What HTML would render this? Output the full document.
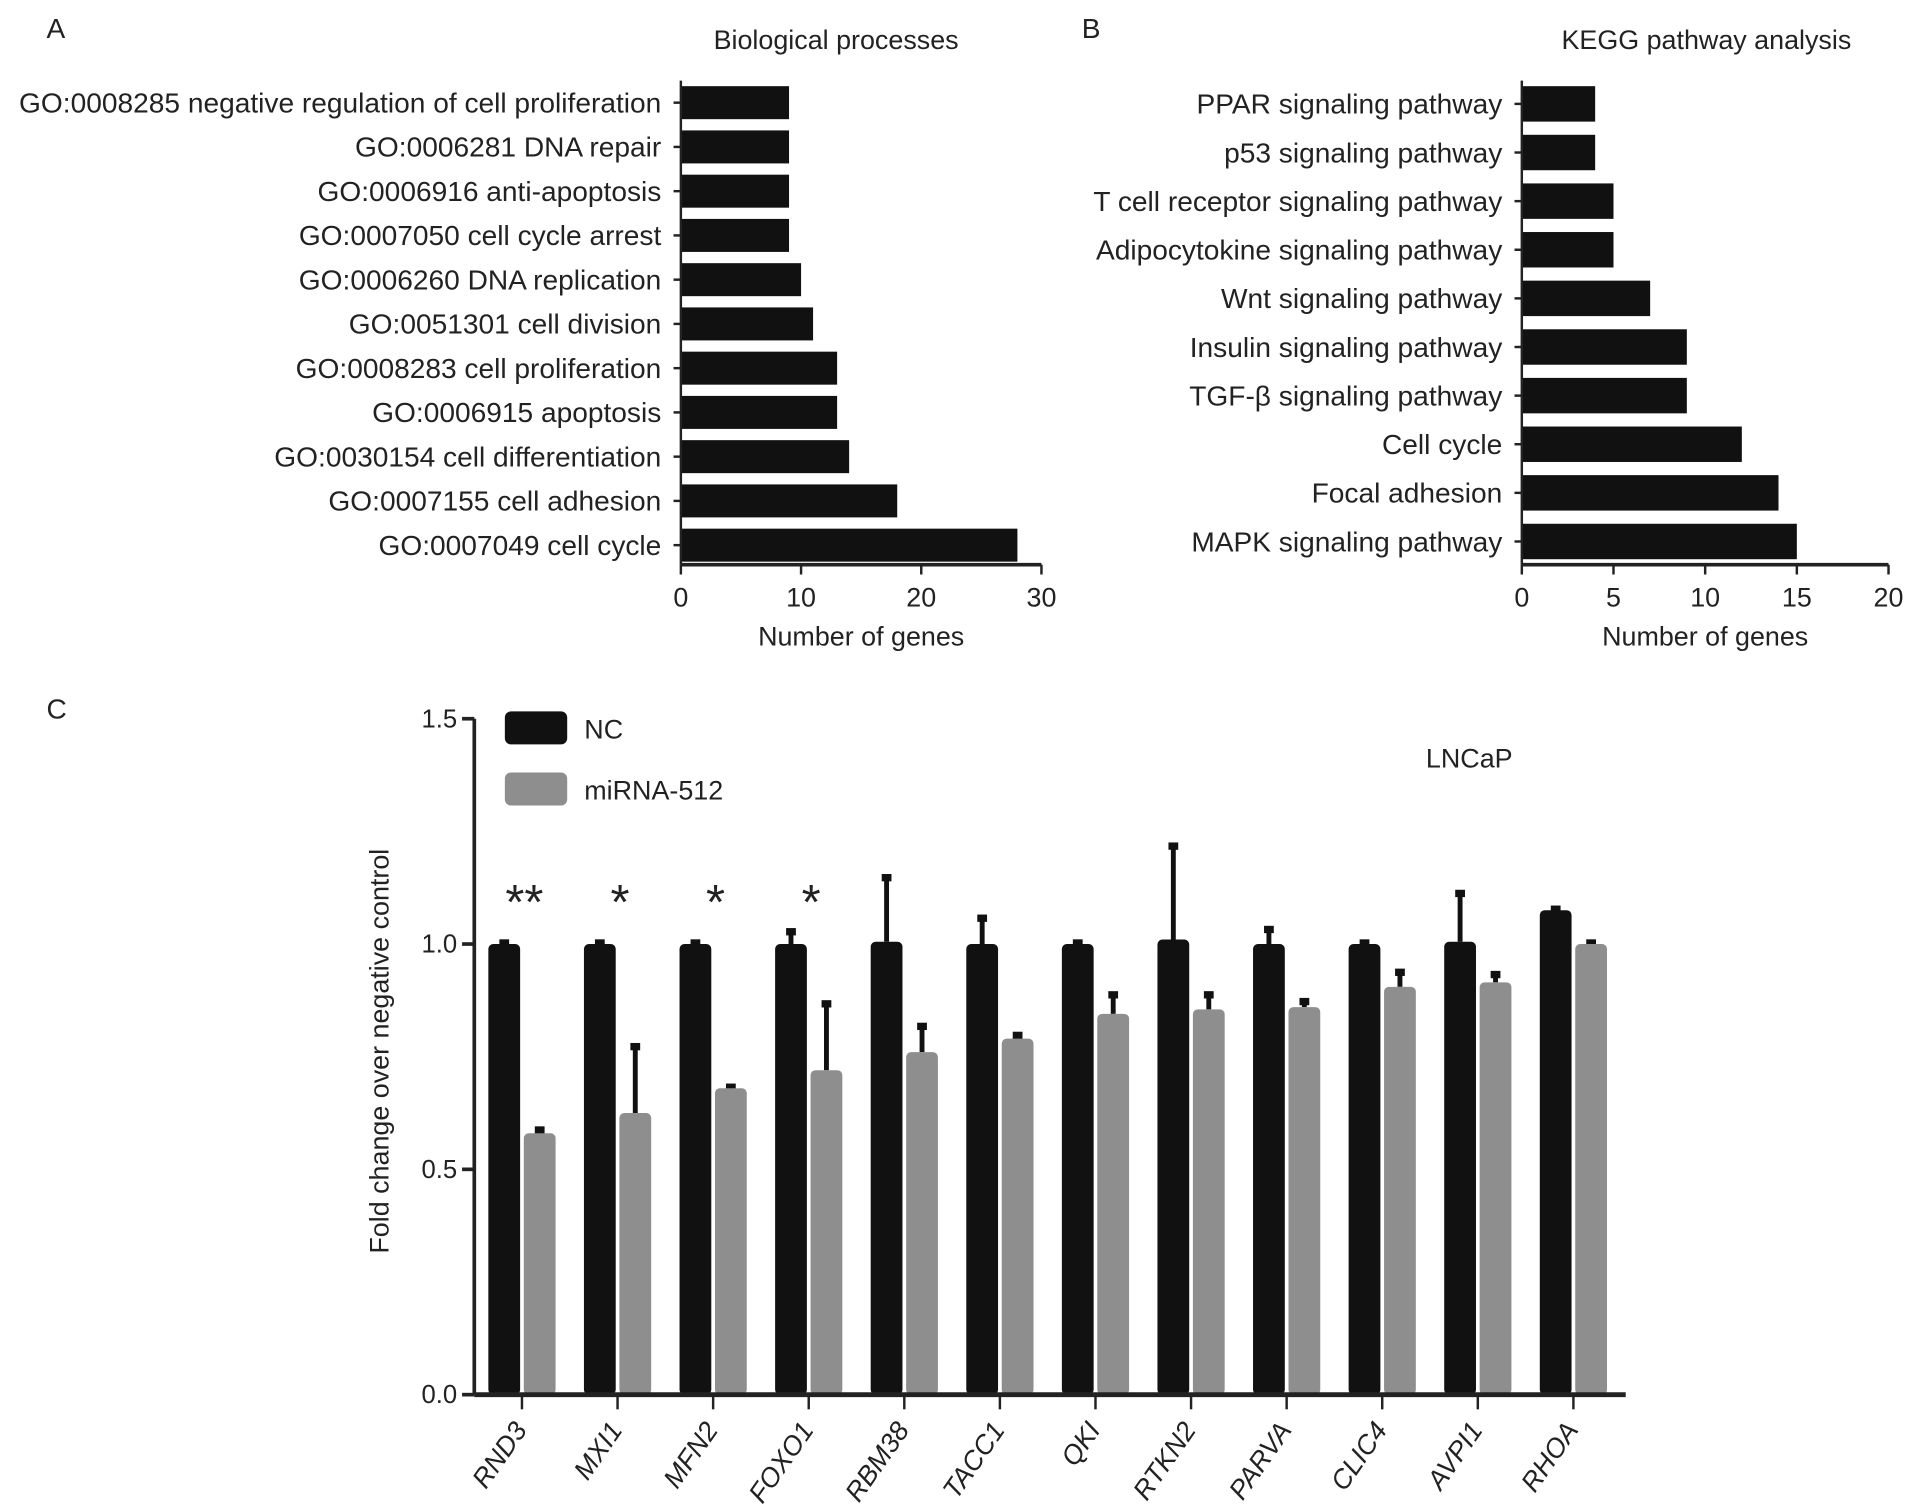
<!DOCTYPE html>
<html><head><meta charset="utf-8"><style>
html,body{margin:0;padding:0;background:#fff;}
svg{display:block;font-family:"Liberation Sans",Arial,sans-serif;}
</style></head><body>
<svg id="fig" width="1913" height="1512" viewBox="0 0 1565 1237">
<g id="pa"></g>
<g id="pb"></g>
<g id="pc"></g>
</svg>
<script>
const goTerms=["GO:0008285 negative regulation of cell proliferation","GO:0006281 DNA repair","GO:0006916 anti-apoptosis","GO:0007050 cell cycle arrest","GO:0006260 DNA replication","GO:0051301 cell division","GO:0008283 cell proliferation","GO:0006915 apoptosis","GO:0030154 cell differentiation","GO:0007155 cell adhesion","GO:0007049 cell cycle"];
const goCounts=[9,9,9,9,10,11,13,13,14,18,28];
const goTicks=[0,10,20,30];
const keggTerms=["PPAR signaling pathway","p53 signaling pathway","T cell receptor signaling pathway","Adipocytokine signaling pathway","Wnt signaling pathway","Insulin signaling pathway","TGF-β signaling pathway","Cell cycle","Focal adhesion","MAPK signaling pathway"];
const keggCounts=[4,4,5,5,7,9,9,12,14,15];
const keggTicks=[0,5,10,15,20];
const genes=["RND3","MXI1","MFN2","FOXO1","RBM38","TACC1","QKI","RTKN2","PARVA","CLIC4","AVPI1","RHOA"];
const ncValues=[1,1,1,1,1.005,1,1,1.01,1,1,1.005,1.075];
const ncErrTop=[1.005,1.005,1.005,1.03,1.15,1.06,1.005,1.22,1.035,1.005,1.115,1.08];
const miValues=[0.58,0.625,0.68,0.72,0.76,0.79,0.845,0.855,0.86,0.905,0.915,1.0];
const miErrTop=[0.59,0.775,0.685,0.87,0.82,0.80,0.89,0.89,0.875,0.94,0.935,1.005];
const sigMarks=["**","*","*","*","","","","","","","",""];
const yTicksC=[0,0.5,1.0,1.5];

const NS="http://www.w3.org/2000/svg";
function mk(parent,tag,attrs,text){const e=document.createElementNS(NS,tag);for(const k in attrs)e.setAttribute(k,attrs[k]);if(text!==undefined)e.textContent=text;parent.appendChild(e);return e;}

function hbar(g,terms,counts,ticks,x0,xMax,maxV,yFirst,yLast,yTop,yBot,barH,title,titleX,letter,letterX){
  const sx=v=>x0+(xMax-x0)*v/maxV;
  const n=terms.length, step=(yLast-yFirst)/(n-1), sy=i=>yFirst+step*i;
  let t=mk(g,'text',{x:letterX,y:31,'font-size':23,fill:'#222'},letter);
  
  
  t=mk(g,'text',{x:titleX,y:40,'font-size':22,'text-anchor':'middle',fill:'#222'},title);
  
  
  terms.forEach((name,i)=>{
    const r=mk(g,'rect',{x:sx(0),y:sy(i)-barH/2,width:sx(counts[i])-sx(0),height:barH,fill:'#111'});
    
    
    mk(g,'line',{x1:x0-6,x2:x0,y1:sy(i),y2:sy(i),stroke:'#222','stroke-width':2});
    const l=mk(g,'text',{x:x0-16,y:sy(i)+8,'font-size':23,'text-anchor':'end',fill:'#222'},name);
    
    
  });
  const ax=mk(g,'line',{x1:x0,x2:x0,y1:yTop,y2:yBot,stroke:'#222','stroke-width':2});
  
  
  const bx=mk(g,'line',{x1:x0,x2:xMax,y1:yBot,y2:yBot,stroke:'#222','stroke-width':3});
  
  
  ticks.forEach(v=>{
    mk(g,'line',{x1:sx(v),x2:sx(v),y1:yBot,y2:yBot+8,stroke:'#222','stroke-width':2});
    const tl=mk(g,'text',{x:sx(v),y:yBot+34,'font-size':22,'text-anchor':'middle',fill:'#222'},String(v));
    
    
  });
  const xt=mk(g,'text',{x:(x0+xMax)/2,y:yBot+66,'font-size':22,'text-anchor':'middle',fill:'#222'},'Number of genes');
  
  
}
hbar(document.getElementById('pa'),goTerms,goCounts,goTicks,557,852,30,84,446,66,462,27,'Biological processes',684,'A',38);
hbar(document.getElementById('pb'),keggTerms,keggCounts,keggTicks,1245,1545,20,85,443,66,462,29,'KEGG pathway analysis',1396,'B',885);

(function(){
  const g=document.getElementById('pc');
  const x0=388,y0=1141,y15=588,xEnd=1330;
  const sy=v=>y0-(y0-y15)*v/1.5;
  const cx=i=>427+i*78.2;
  let t=mk(g,'text',{x:38,y:588,'font-size':23,fill:'#222'},'C');
  
  
  genes.forEach((gname,i)=>{
    const bw=26;
    const nx=cx(i)-14.5, mx=cx(i)+14.5;
    mk(g,'line',{x1:nx,x2:nx,y1:sy(ncValues[i]),y2:sy(ncErrTop[i]),stroke:'#111','stroke-width':4});
    mk(g,'rect',{x:nx-4,y:sy(ncErrTop[i])-2,width:8,height:6,fill:'#111'});
    const b=mk(g,'rect',{x:nx-bw/2,y:sy(ncValues[i]),width:bw,height:y0-sy(ncValues[i]),rx:4,fill:'#111'});
    
    
    mk(g,'line',{x1:mx,x2:mx,y1:sy(miValues[i]),y2:sy(miErrTop[i]),stroke:'#111','stroke-width':4});
    mk(g,'rect',{x:mx-4,y:sy(miErrTop[i])-2,width:8,height:6,fill:'#111'});
    const b2=mk(g,'rect',{x:mx-bw/2,y:sy(miValues[i]),width:bw,height:y0-sy(miValues[i]),rx:4,fill:'#8e8e8e'});
    
    
    mk(g,'line',{x1:cx(i),x2:cx(i),y1:y0,y2:y0+12,stroke:'#222','stroke-width':2});
    const lx=cx(i)-8, ly=y0+20;
    const l=mk(g,'text',{x:lx,y:ly,'font-size':22,'font-style':'italic','text-anchor':'end',fill:'#222',transform:`rotate(-55 ${lx} ${ly})`,'dominant-baseline':'hanging'},gname);
    
    
    if(sigMarks[i]){
      const s=mk(g,'text',{x:cx(i)+2,y:752,'font-size':40,'text-anchor':'middle',fill:'#222'},sigMarks[i]);
      
      
    }
  });
  const ya=mk(g,'line',{x1:x0,x2:x0,y1:y15,y2:y0,stroke:'#222','stroke-width':3});
  
  
  const xa=mk(g,'line',{x1:x0,x2:xEnd,y1:y0,y2:y0,stroke:'#222','stroke-width':4});
  
  
  yTicksC.forEach(v=>{
    mk(g,'line',{x1:x0-10,x2:x0,y1:sy(v),y2:sy(v),stroke:'#222','stroke-width':3});
    const tl=mk(g,'text',{x:x0-14,y:sy(v)+7,'font-size':21,'text-anchor':'end',fill:'#222'},v.toFixed(1));
    
    
  });
  const yt=mk(g,'text',{x:318,y:860,'font-size':22,'text-anchor':'middle',fill:'#222',transform:'rotate(-90 318 860)'},'Fold change over negative control');
  
  
  const l1=mk(g,'rect',{x:413,y:582,width:51,height:27,rx:5,fill:'#111'});
  
  
  const lt1=mk(g,'text',{x:478,y:604,'font-size':22,fill:'#222'},'NC');
  
  
  const l2=mk(g,'rect',{x:413,y:632,width:51,height:27,rx:5,fill:'#8e8e8e'});
  
  
  const lt2=mk(g,'text',{x:478,y:654,'font-size':22,fill:'#222'},'miRNA-512');
  
  
  const ln=mk(g,'text',{x:1202,y:628,'font-size':22,'text-anchor':'middle',fill:'#222'},'LNCaP');
  
  
})();
</script>
</body></html>
